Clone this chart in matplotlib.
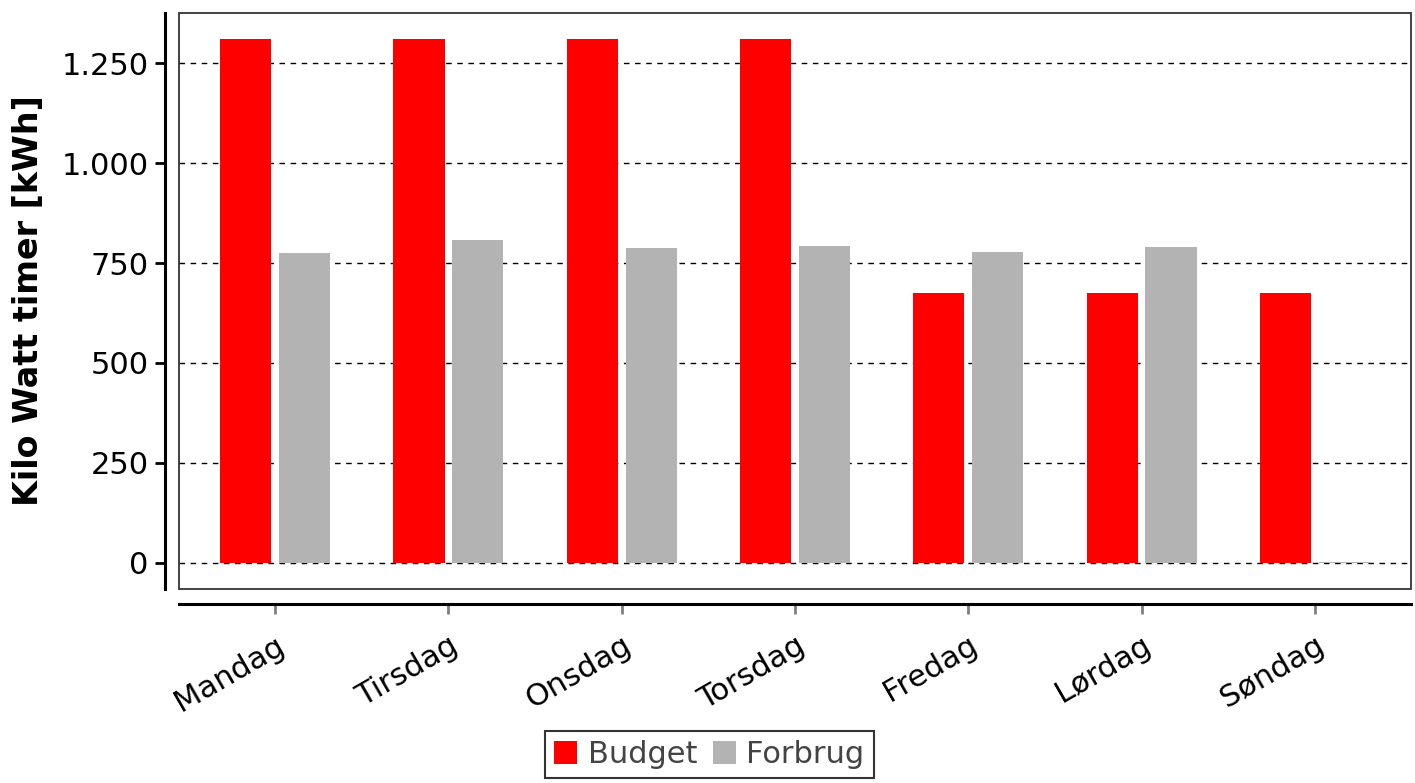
import matplotlib
matplotlib.use("Agg")
import matplotlib.pyplot as plt
import numpy as np
from matplotlib.patches import Rectangle
from matplotlib.ticker import FuncFormatter

days = ["Mandag", "Tirsdag", "Onsdag", "Torsdag", "Fredag", "Lørdag", "Søndag"]
budget = [1310, 1310, 1310, 1310, 675, 675, 675]
forbrug = [775, 807, 787, 792, 777, 790, 2]
series = ["Budget", "Forbrug"]
colors = ["#FF0000", "#B3B3B3"]

plt.rcParams["font.family"] = ["DejaVu Sans"]

fig = plt.figure(figsize=(14.15, 7.83), dpi=100)
ax = fig.add_axes([179 / 1415, 1 - 589 / 783, (1411 - 179) / 1415, (589 - 13) / 783])

# spines first (changing their position resets tick settings)
for s in ["top", "right"]:
    ax.spines[s].set_visible(False)
ax.spines["left"].set_position(("outward", 10))
ax.spines["bottom"].set_position(("outward", 11))
ax.spines["left"].set_linewidth(2.2)
ax.spines["bottom"].set_linewidth(2.2)
ax.add_patch(Rectangle((0, 0), 1, 1, transform=ax.transAxes, fill=False,
                       edgecolor="#333333", linewidth=1.3, clip_on=False, zorder=5))

x = np.arange(len(days))
w = 0.295
ax.bar(x - 0.17, budget, w, color=colors[0], label=series[0], zorder=3, linewidth=0)
ax.bar(x + 0.17, forbrug, w, color=colors[1], label=series[1], zorder=3, linewidth=0)

ax.set_xlim(-0.555, len(days) - 1 + 0.555)
ax.set_ylim(-65.5, 1375.5)
ax.set_yticks([0, 250, 500, 750, 1000, 1250])
ax.yaxis.set_major_formatter(FuncFormatter(lambda v, p: f"{int(v):,}".replace(",", ".")))
ax.grid(axis="y", color="black", linestyle=(0, (4, 4)), linewidth=1, zorder=1)

ax.set_xticks(x)
ax.set_xticklabels(days, rotation=30, ha="right", rotation_mode="anchor", fontsize=22)
ax.tick_params(axis="y", labelsize=22, length=7, width=2, color="black", pad=5)
ax.tick_params(axis="x", length=7, width=2, color="#7F7F7F", pad=12)

ax.set_ylabel("Kilo Watt timer [kWh]", fontsize=24, fontweight="bold", labelpad=12)

leg = fig.legend(loc="upper center", bbox_to_anchor=(0.5014, 1 - 731 / 783), ncol=2,
                 fontsize=22, frameon=True, fancybox=False, handlelength=0.75,
                 handleheight=0.75, handletextpad=0.35, columnspacing=0.5,
                 borderpad=0.3, borderaxespad=0, labelcolor="#444444")
leg.get_frame().set_edgecolor("black")
leg.get_frame().set_linewidth(1.5)

fig.savefig("out.png", dpi=100)
